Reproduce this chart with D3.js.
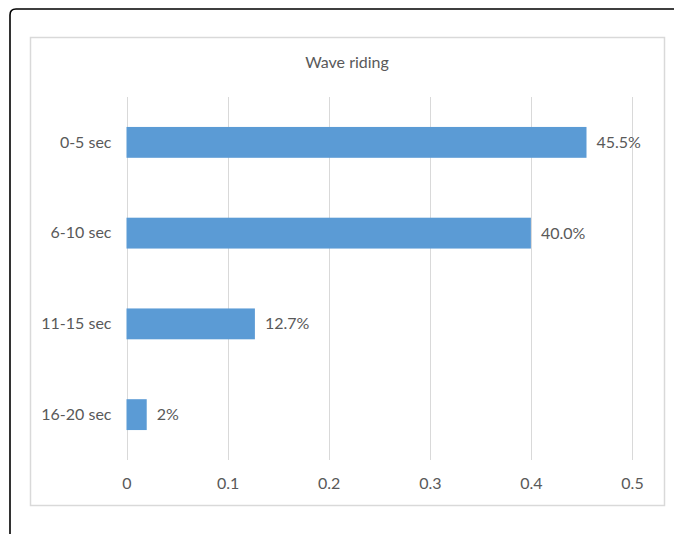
<!DOCTYPE html>
<html>
<head>
<meta charset="utf-8">
<script src="https://cdn.jsdelivr.net/npm/d3@7"></script>
<style>
  html, body { margin: 0; padding: 0; background: #fff; }
  svg { display: block; }
  text { font-family: Lato, "Open Sans", sans-serif; fill: #595959; }
</style>
</head>
<body>
<svg id="chart" width="674" height="534"></svg>
<script>
// Wave riding duration shares
const categories = ["0-5 sec", "6-10 sec", "11-15 sec", "16-20 sec"];
const shares = [0.455, 0.400, 0.127, 0.02];
const shareLabels = ["45.5%", "40.0%", "12.7%", "2%"];
const xTicks = [0, 0.1, 0.2, 0.3, 0.4, 0.5];
const title = "Wave riding";

const fontSize = 16;
const svg = d3.select("#chart");

// outer frame with rounded corner, running off the right and bottom edges
svg.append("path")
  .attr("d", "M10,534 L10,15 Q10,9 16,9 L676,9")
  .attr("fill", "none")
  .attr("stroke", "#000")
  .attr("stroke-width", 1.6);

// chart area border
svg.append("rect")
  .attr("x", 30.5).attr("y", 37.5)
  .attr("width", 634).attr("height", 468)
  .attr("fill", "#fff")
  .attr("stroke", "#d9d9d9")
  .attr("stroke-width", 1.5);

const plot = { left: 126.5, right: 632, top: 97, bottom: 460 };

const x = d3.scaleLinear().domain([0, 0.5]).range([plot.left, plot.right]);
const y = d3.scaleBand().domain(categories).range([plot.top, plot.bottom]).paddingInner(0.66).paddingOuter(0.33);

// vertical gridlines
svg.append("g")
  .selectAll("line")
  .data(xTicks)
  .join("line")
  .attr("x1", d => Math.round(x(d)) + 0.5)
  .attr("x2", d => Math.round(x(d)) + 0.5)
  .attr("y1", plot.top)
  .attr("y2", plot.bottom)
  .attr("stroke", "#d9d9d9")
  .attr("stroke-width", 1);

// x axis tick labels
const xAxis = d3.axisBottom(x).tickValues(xTicks).tickSize(0).tickPadding(0)
  .tickFormat(d => d === 0 ? "0" : d3.format(".1f")(d));
const gx = svg.append("g").attr("transform", `translate(0,${plot.bottom + 29})`).call(xAxis);
gx.select(".domain").remove();
gx.selectAll("text").attr("font-size", fontSize).attr("dy", 0).style("font-family", "Lato, 'Open Sans', sans-serif").attr("fill", "#595959");

// y axis category labels
const yAxis = d3.axisLeft(y).tickSize(0).tickPadding(15);
const gy = svg.append("g").attr("transform", `translate(${plot.left},0)`).call(yAxis);
gy.select(".domain").remove();
gy.selectAll("text").attr("font-size", fontSize).style("font-family", "Lato, 'Open Sans', sans-serif").attr("fill", "#595959");

const rows = categories.map((c, i) => ({ c, v: shares[i], label: shareLabels[i] }));

// bars
svg.append("g")
  .selectAll("rect")
  .data(rows)
  .join("rect")
  .attr("x", x(0))
  .attr("y", d => y(d.c))
  .attr("width", d => x(d.v) - x(0))
  .attr("height", y.bandwidth())
  .attr("fill", "#5b9bd5");

// value labels
svg.append("g")
  .selectAll("text")
  .data(rows)
  .join("text")
  .attr("x", d => x(d.v) + 10)
  .attr("y", d => y(d.c) + y.bandwidth() / 2)
  .attr("dy", "0.35em")
  .attr("font-size", fontSize)
  .text(d => d.label);

// title
svg.append("text")
  .attr("x", 347)
  .attr("y", 68)
  .attr("text-anchor", "middle")
  .attr("font-size", fontSize)
  .text(title);
</script>
</body>
</html>
